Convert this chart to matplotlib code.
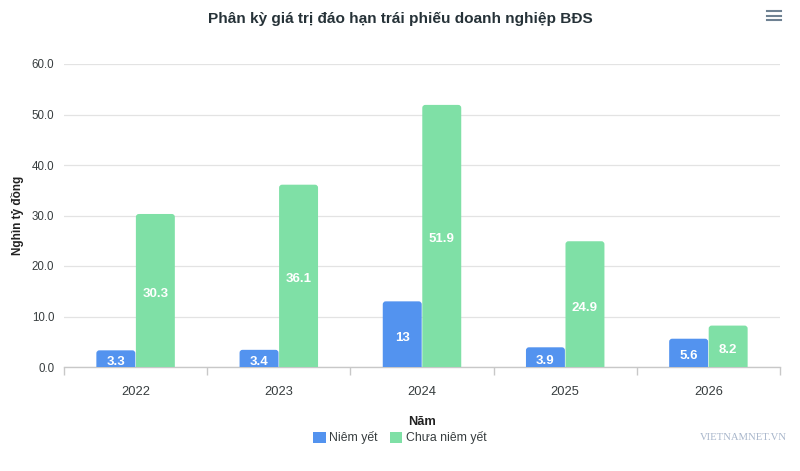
import matplotlib
matplotlib.use("Agg")
import matplotlib.pyplot as plt
from matplotlib.patches import FancyBboxPatch, Patch
from matplotlib.lines import Line2D
import numpy as np

plt.rcParams['font.family'] = ['Liberation Sans', 'DejaVu Sans']

years = ["2022", "2023", "2024", "2025", "2026"]
niem_yet = [3.3, 3.4, 13, 3.9, 5.6]
chua_niem_yet = [30.3, 36.1, 51.9, 24.9, 8.2]
labels_niem_yet = ["3.3", "3.4", "13", "3.9", "5.6"]
labels_chua = ["30.3", "36.1", "51.9", "24.9", "8.2"]
series_names = ["Niêm yết", "Chưa niêm yết"]
yticks = [0, 10, 20, 30, 40, 50, 60]

BLUE = "#5393ef"
GREEN = "#7fe0a6"
TXT = "#373d3f"

fig = plt.figure(figsize=(8, 4.71), dpi=100)
ax = fig.add_axes([0.08, 1 - 367 / 471, 0.895, (367 - 64) / 471])

x = np.arange(len(years))
w = 0.272
off = 0.138

bars1 = ax.bar(x - off, niem_yet, w, color=BLUE, zorder=3)
bars2 = ax.bar(x + off, chua_niem_yet, w, color=GREEN, zorder=3)

ax.set_xlim(-0.5, len(years) - 0.5)
ax.set_ylim(0, 60)

# rounded top corners
fig.canvas.draw()
px_per_x = ax.bbox.width / (ax.get_xlim()[1] - ax.get_xlim()[0])
px_per_y = ax.bbox.height / (ax.get_ylim()[1] - ax.get_ylim()[0])
r_px = 3.0
rx = r_px / px_per_x
ry = r_px / px_per_y
for bars in (bars1, bars2):
    for b in bars:
        b.set_visible(False)
        bx, by, bw, bh = b.get_x(), b.get_y(), b.get_width(), b.get_height()
        p = FancyBboxPatch((bx, by - ry), bw, bh + ry,
                           boxstyle=f"round,pad=0,rounding_size={rx}",
                           mutation_aspect=ry / rx,
                           facecolor=b.get_facecolor(), edgecolor="none",
                           zorder=3, clip_on=True)
        ax.add_patch(p)

# value labels
for bars, labs in ((bars1, labels_niem_yet), (bars2, labels_chua)):
    for b, lab in zip(bars, labs):
        ax.annotate(lab, (b.get_x() + b.get_width() / 2, b.get_height() / 2),
                    xytext=(0, -2.5), textcoords="offset points",
                    ha="center", va="center", color="white",
                    fontsize=9.5, fontweight="bold", zorder=4)

# axes styling
for s in ("top", "right", "left"):
    ax.spines[s].set_visible(False)
ax.spines["bottom"].set_color("#c8c8c8")
ax.spines["bottom"].set_linewidth(1)
ax.set_yticks(yticks)
ax.set_yticklabels([f"{v:.1f}" for v in yticks])
ax.tick_params(axis="y", length=0, pad=7, labelsize=8.3, labelcolor=TXT)
ax.grid(axis="y", color="#e3e3e3", linewidth=0.9, zorder=0)
ax.set_axisbelow(True)

ax.set_xticks(x)
ax.set_xticklabels(years)
ax.tick_params(axis="x", length=0, pad=14, labelsize=9.3, labelcolor=TXT)
ax.set_xticks(np.arange(-0.5, len(years) + 0.5, 1), minor=True)
ax.tick_params(axis="x", which="minor", length=6, color="#c8c8c8", width=1)

ax.set_ylabel("Nghìn tỷ đồng", fontsize=8.5, fontweight="bold", color="#222")
ax.yaxis.set_label_coords((24 - 64) / 716, 0.5)
ax.set_xlabel("Năm", fontsize=9.3, fontweight="bold", color="#222")
ax.xaxis.set_label_coords(0.5, -(416 - 367) / 303)

fig.text(0.5, 1 - 19 / 471, "Phân kỳ giá trị đáo hạn trái phiếu doanh nghiệp BĐS",
         ha="center", va="center", fontsize=11.1, fontweight="bold", color="#263238")

handles = [Patch(facecolor=BLUE, edgecolor="none"), Patch(facecolor=GREEN, edgecolor="none")]
leg = fig.legend(handles, series_names, loc="center", bbox_to_anchor=(0.5, 1 - 438 / 471),
                 ncol=2, frameon=False, fontsize=8.8, handlelength=1.0, handleheight=1.0,
                 handletextpad=0.3, columnspacing=1.0)
for t in leg.get_texts():
    t.set_color(TXT)

fig.text(787 / 800, 1 - 437 / 471, "VIETNAMNET.VN", ha="right", va="center",
         fontsize=7.7, family=["Liberation Serif", "DejaVu Serif"], color="#a8b6cb")

# menu icon
for yy in (11, 15.5, 20):
    fig.add_artist(Line2D([767 / 800, 781 / 800], [1 - yy / 471] * 2, color="#6e8192",
                          linewidth=1.5, transform=fig.transFigure))

fig.savefig("out.png", dpi=100, facecolor="white")
